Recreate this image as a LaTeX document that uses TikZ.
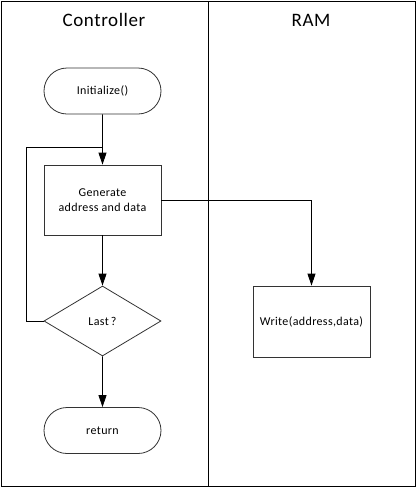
\documentclass[tikz,border=0pt]{standalone}
\usepackage{fontspec}
\setmainfont{Carlito}[LetterSpace=3]
\usetikzlibrary{arrows.meta,shapes.geometric,shapes.misc}
\begin{document}
\begin{tikzpicture}[x=1pt,y=-1pt,
  shapeline/.style={draw=black!80,line width=0.8pt},
  term/.style={shapeline,rounded rectangle,minimum width=117pt,minimum height=46pt,inner sep=0pt,font=\fontsize{12}{14}\selectfont},
  proc/.style={shapeline,rectangle,minimum width=117pt,minimum height=70pt,inner sep=0pt,align=center,font=\fontsize{12}{15.5}\selectfont},
  dec/.style={shapeline,diamond,aspect=1.6714,minimum width=117pt,minimum height=70pt,inner sep=0pt,font=\fontsize{12}{14}\selectfont},
  lane/.style={draw=black,line width=1pt},
  title/.style={font=\fontsize{19}{22}\selectfont},
  conn/.style={draw=black,line width=0.8pt},
  arr/.style={conn,-{Triangle[length=12pt,width=8pt]}}]
\useasboundingbox (0,0) rectangle (417,488);
\draw[lane] (1,1) rectangle (415,486);
\draw[lane] (208,1) -- (208,486);
\node[title] (tc) at (104,20) {Controller};
\node[title] (tr) at (311,20) {RAM};
\node[term] (init) at (102.5,91) {Initialize()};
\node[proc] (gen) at (102.5,200) {Generate\\address and data};
\node[dec] (last) at (102.5,321) {Last\,?};
\node[term] (ret) at (102.5,430.5) {return};
\node[proc,minimum height=71pt] (write) at (311.5,321.5) {Write(address,data)};
\coordinate (j) at (102.5,147);
\draw[arr] (init) -- (gen);
\draw[conn] (last.west) -- (26,321) -- (26,147) -- (j);
\draw[arr] (gen) -- (last);
\draw[arr] (last) -- (ret);
\draw[arr] (gen.east) -| (write.north);
\end{tikzpicture}
\end{document}
